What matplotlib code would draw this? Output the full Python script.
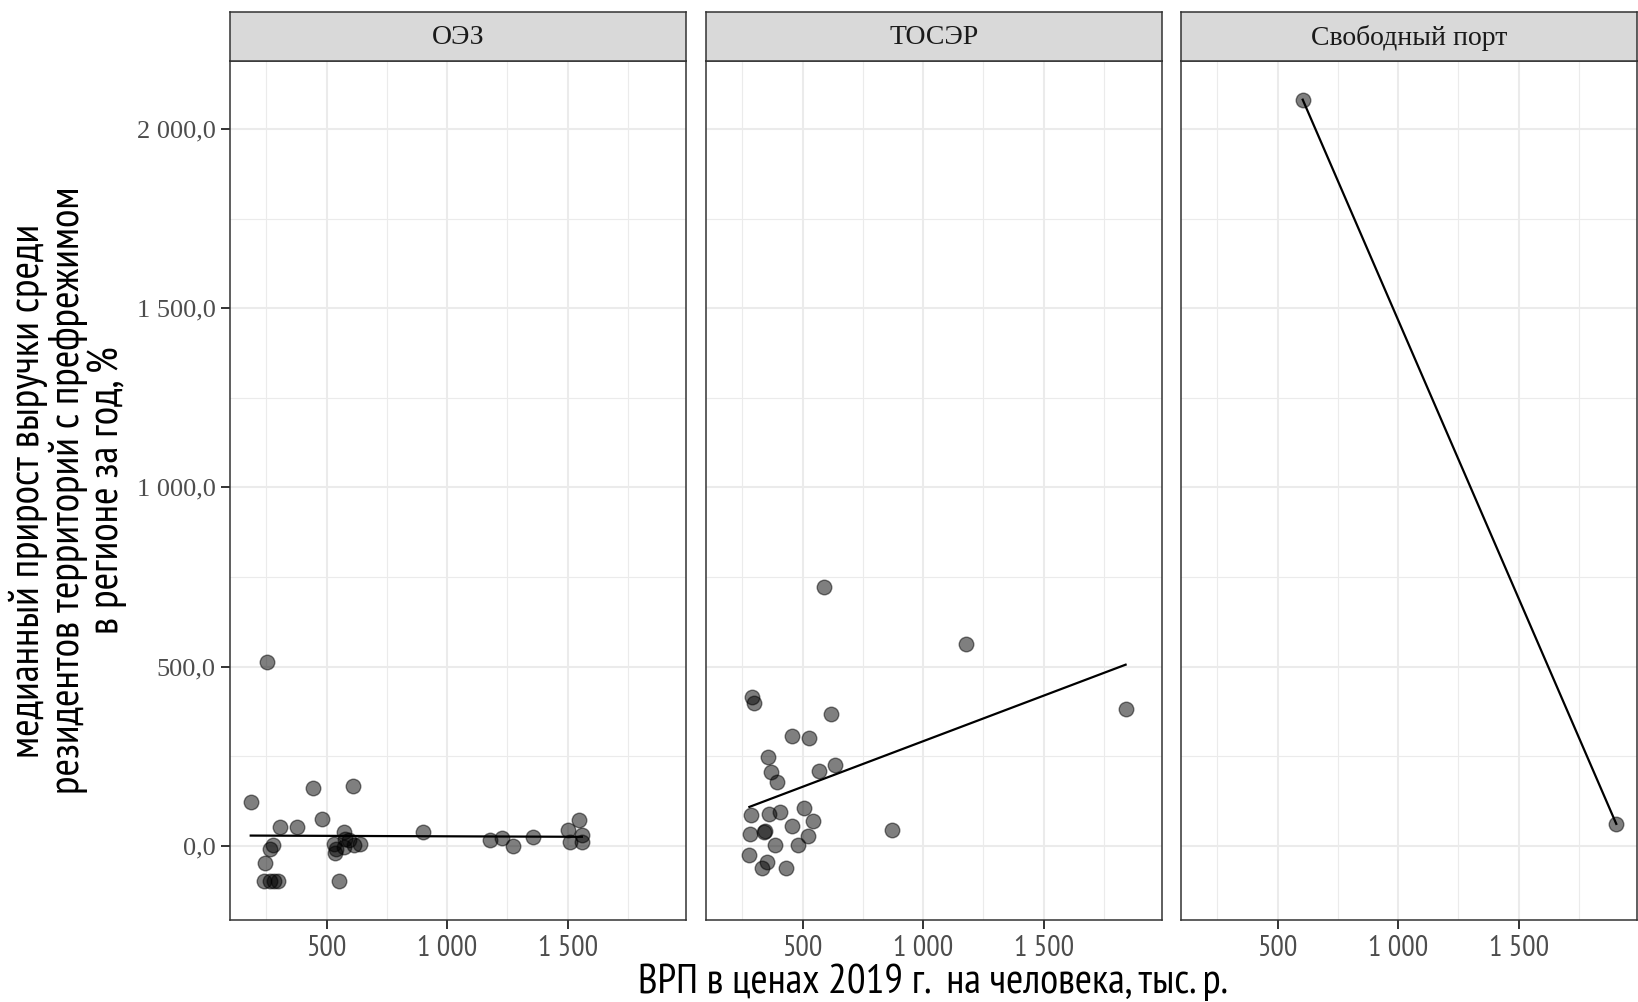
import matplotlib
matplotlib.use('Agg')
import matplotlib.pyplot as plt
import numpy as np
import logging
logging.getLogger('matplotlib.font_manager').setLevel(logging.ERROR)

# ---------------- data ----------------
panels = ['ОЭЗ', 'ТОСЭР', 'Свободный порт']

oez_x = [185, 254, 444, 610, 479, 308, 378, 277, 263, 246, 240, 263, 283, 300, 551,
         571, 530, 537, 534, 578, 592, 571, 612, 637, 900, 1178, 1229, 1273, 1355,
         1502, 1545, 1508, 1559, 1559]
oez_y = [123, 512, 162, 167, 74, 53, 53, 2, -8, -47, -99, -99, -99, -99, -99,
         37, 6, -8, -19, 20, 16, -3, 2, 6, 37, 16, 23, -1, 25,
         45, 71, 11, 30, 11]

tosr_x = [291, 298, 619, 457, 528, 355, 370, 393, 567, 633, 286, 360, 404, 506, 542,
          457, 282, 341, 343, 521, 385, 480, 279, 353, 333, 432, 870, 589, 1176, 1840]
tosr_y = [415, 397, 367, 306, 301, 249, 207, 177, 209, 226, 86, 89, 94, 106, 69,
          54, 33, 37, 42, 26, 3, 3, -25, -45, -63, -62, 44, 721, 563, 382]

port_x = [604, 1905]
port_y = [2082, 61]

x_ticks = [500, 1000, 1500]
x_tick_labels = ['500', '1 000', '1 500']
y_ticks = [0, 500, 1000, 1500, 2000]
y_tick_labels = ['0,0', '500,0', '1 000,0', '1 500,0', '2 000,0']
x_minor = [250, 750, 1250, 1750]
y_minor = [250, 750, 1250, 1750]

x_label = 'ВРП в ценах 2019 г.  на человека, тыс. р.'
y_label = ('медианный прирост выручки среди\n'
           'резидентов территорий с префрежимом\n'
           'в регионе за год, %')

series = [(oez_x, oez_y), (tosr_x, tosr_y), (port_x, port_y)]

# ---------------- style ----------------
NARROW = ['Liberation Sans Narrow', 'Arial Narrow', 'PT Sans Narrow', 'Roboto Condensed',
          'IBM Plex Sans Condensed', 'DejaVu Sans']
SERIF = ['Liberation Serif', 'Tinos', 'DejaVu Serif']
BORDER = '#333333'
GRID = '#ebebeb'

W, H = 1638, 1002
fig = plt.figure(figsize=(W / 100, H / 100), dpi=100)
renderer = fig.canvas.get_renderer()


def fit(text_obj, target_px, dim='width'):
    """scale the font size so that the rendered extent matches the target."""
    for _ in range(3):
        bb = text_obj.get_window_extent(renderer=renderer)
        cur = bb.width if dim == 'width' else bb.height
        if cur > 0:
            text_obj.set_fontsize(text_obj.get_fontsize() * target_px / cur)
    return text_obj.get_fontsize()


all_x = np.concatenate([np.asarray(s[0], float) for s in series])
all_y = np.concatenate([np.asarray(s[1], float) for s in series])
xr = all_x.max() - all_x.min()
yr = all_y.max() - all_y.min()
xlim = (all_x.min() - 0.05 * xr, all_x.max() + 0.05 * xr)
ylim = (all_y.min() - 0.05 * yr, all_y.max() + 0.05 * yr)

lefts = [230, 706, 1181]
pw = 456
top_px, bot_px, strip_top = 60.6, 920.3, 11.5


def fx(px):
    return px / W


def fy(py):
    return 1 - py / H


# measure sizes for fonts once
probe = fig.text(0, 0, '1 000', fontfamily=NARROW, fontsize=18)
xtick_fs = fit(probe, 60)
probe.remove()
probe = fig.text(0, 0, '1 000,0', fontfamily=SERIF, fontsize=19)
ytick_fs = fit(probe, 79)
probe.remove()
probe = fig.text(0, 0, 'Свободный порт', fontfamily=SERIF, fontsize=20)
strip_fs = fit(probe, 195)
probe.remove()

for i, (name, (xs, ys)) in enumerate(zip(panels, series)):
    ax = fig.add_axes([fx(lefts[i]), fy(bot_px), pw / W, (bot_px - top_px) / H])
    ax.set_xlim(xlim)
    ax.set_ylim(ylim)
    ax.set_facecolor('white')
    for v in x_minor:
        ax.axvline(v, color=GRID, lw=0.8, zorder=0)
    for v in y_minor:
        ax.axhline(v, color=GRID, lw=0.8, zorder=0)
    for v in x_ticks:
        ax.axvline(v, color=GRID, lw=1.5, zorder=0)
    for v in y_ticks:
        ax.axhline(v, color=GRID, lw=1.5, zorder=0)

    xa = np.asarray(xs, float)
    ya = np.asarray(ys, float)
    ax.scatter(xa, ya, s=110, facecolor=(0, 0, 0, 0.5), edgecolor=(0, 0, 0, 0.5),
               linewidth=1.0, zorder=3)
    k, b = np.polyfit(xa, ya, 1)
    xx = np.array([xa.min(), xa.max()])
    ax.plot(xx, k * xx + b, color='black', lw=1.6, zorder=4)

    for sp in ax.spines.values():
        sp.set_color(BORDER)
        sp.set_linewidth(1.1)

    ax.set_xticks(x_ticks)
    ax.set_xticklabels(x_tick_labels, fontfamily=NARROW, fontsize=xtick_fs, color='#4d4d4d')
    ax.set_yticks(y_ticks)
    if i == 0:
        ax.set_yticklabels(y_tick_labels, fontfamily=SERIF, fontsize=ytick_fs, color='#4d4d4d')
    else:
        ax.tick_params(axis='y', left=False, labelleft=False)
    ax.tick_params(axis='both', length=6.5, width=1.4, color=BORDER, pad=4)

    sax = fig.add_axes([fx(lefts[i]), fy(top_px), pw / W, (top_px - strip_top) / H])
    sax.set_facecolor('#d9d9d9')
    sax.set_xticks([])
    sax.set_yticks([])
    for sp in sax.spines.values():
        sp.set_color(BORDER)
        sp.set_linewidth(1.1)
    sax.text(0.5, 0.47, name, ha='center', va='center', fontfamily=SERIF,
             fontsize=strip_fs, color='#1a1a1a', transform=sax.transAxes)

xl = fig.text(fx((lefts[0] + lefts[2] + pw) / 2), fy(982), x_label, ha='center', va='center',
              fontfamily=NARROW, fontsize=24, color='black')
fit(xl, 590)

# y label: fit the longest line first, then draw the three lines
lines = y_label.split('\n')
probe = fig.text(0, 0, lines[1], fontfamily=NARROW, fontsize=24)
ylab_fs = fit(probe, 581)
probe.remove()
yl = fig.text(fx(68), fy((top_px + bot_px) / 2), y_label, ha='center', va='center',
              rotation=90, multialignment='center', fontfamily=NARROW, fontsize=ylab_fs,
              color='black', linespacing=1.0)
fit(yl, 3 * 36.6 + ylab_fs * 100 / 72 * 0.2, dim='width')

fig.savefig('out.png', dpi=100)
